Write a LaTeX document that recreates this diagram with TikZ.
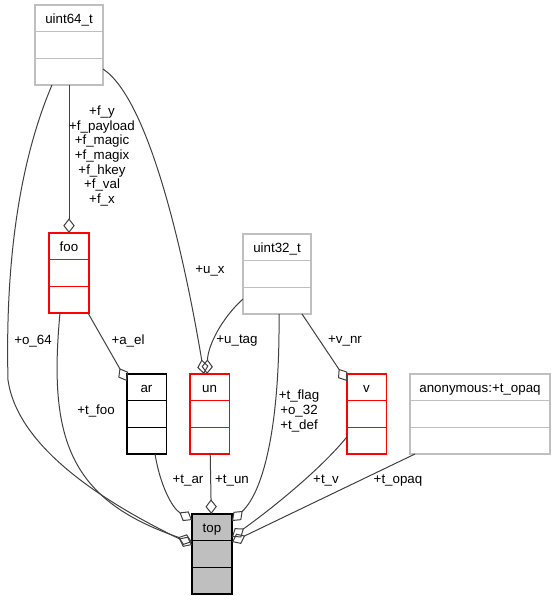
\documentclass[tikz,border=0pt]{standalone}
\usepackage{fontspec}
\setmainfont{Liberation Sans}
\usetikzlibrary{arrows.meta,shapes.multipart}
\definecolor{grey75}{HTML}{BFBFBF}
\definecolor{grey25}{HTML}{404040}

\begin{document}
\begin{tikzpicture}[
	x=0.75pt,y=-0.75pt,
	every node/.style={font=\fontsize{10}{10.9}\selectfont},
	cls/.style={rectangle split,rectangle split parts=3,draw,line width=1pt,
		anchor=north,outer sep=0pt,inner xsep=2pt,inner ysep=0pt,
		rectangle split empty part height=13.4pt,rectangle split empty part depth=5.6pt,
		execute at begin node={\rule[-5.6pt]{0pt}{19pt}}},
	extcls/.style={cls,draw=grey75},
	nodoc/.style={cls,draw=red},
	doc/.style={cls,draw=black},
	self/.style={cls,draw=black,fill=grey75},
	rel/.style={->,>={Diamond[open,length=11pt,width=8.5pt]},draw=grey25,line width=0.75pt},
	lbl/.style={inner sep=0pt,align=center}]

\useasboundingbox (0,0) rectangle (555,596);

\node[extcls,minimum width=51pt] (u64) at (69,5) {uint64\_t};
\node[nodoc,minimum width=30pt] (foo) at (69,233) {foo};
\node[extcls,minimum width=51pt] (u32) at (277,234) {uint32\_t};
\node[doc,minimum width=29.5pt] (ar) at (146.5,374) {ar};
\node[nodoc,minimum width=29.5pt] (un) at (209.5,374) {un};
\node[nodoc,minimum width=29.5pt] (v) at (366.5,374) {v};
\node[extcls,minimum width=105pt] (anon) at (480,374) {anonymous:+t\_opaq};
\node[self,minimum width=30pt] (top) at (212,514) {top};

\draw[rel] ([xshift=-12.75pt]u64.south) .. controls (20,160) and (5,260) .. (8,380)
	.. controls (18,450) and (110,505) .. ([yshift=6.75pt]top.west);
\draw[rel] (u64) -- (foo);
\draw[rel] ([yshift=-18pt]u64.east) .. controls (150,100) and (185,260) .. ([xshift=-4.1pt]un.north);
\draw[rel] ([xshift=-6.75pt]foo.south) .. controls (48,440) and (70,500) .. ([yshift=9pt]top.west);
\draw[rel] ([xshift=-0.75pt]foo.south east) -- ([yshift=-5.25pt]ar.north west);
\draw[rel] ([xshift=6.4pt]ar.south) .. controls (160,485) and (172,508) .. ([yshift=-4.5pt]top.north west);
\draw[rel] (un) -- (top);
\draw[rel] ([yshift=-18.75pt]u32.west) .. controls (222,318) and (208,345) .. ([xshift=-1.9pt]un.north);
\draw[rel] ([xshift=1.5pt]u32.south) .. controls (280,420) and (265,490) .. ([yshift=-5.25pt]top.north east);
\draw[rel] ([xshift=18.75pt]u32.south) -- ([yshift=-5.25pt]v.north west);
\draw[rel] ([yshift=-17.25pt]v.west) .. controls (320,470) and (270,510) .. ([yshift=12.75pt]top.east);
\draw[rel] ([xshift=3.75pt]anon.south west) -- ([yshift=9pt]top.east);

\node[lbl] (lf) at (102,156) {+f\_y\\+f\_payload\\+f\_magic\\+f\_magix\\+f\_hkey\\+f\_val\\+f\_x};
\node[lbl] (lux) at (210,271) {+u\_x};
\node[lbl] (lo64) at (33,341) {+o\_64};
\node[lbl] (lael) at (128,341) {+a\_el};
\node[lbl] (lutag) at (237,341) {+u\_tag};
\node[lbl] (lvnr) at (345,341) {+v\_nr};
\node[lbl] (ltfoo) at (96,411) {+t\_foo};
\node[lbl] (lflag) at (299,411) {+t\_flag\\+o\_32\\+t\_def};
\node[lbl] (ltar) at (188,481) {+t\_ar};
\node[lbl] (ltun) at (232,481) {+t\_un};
\node[lbl] (ltv) at (326,481) {+t\_v};
\node[lbl] (lopaq) at (398,481) {+t\_opaq};

\end{tikzpicture}
\end{document}
